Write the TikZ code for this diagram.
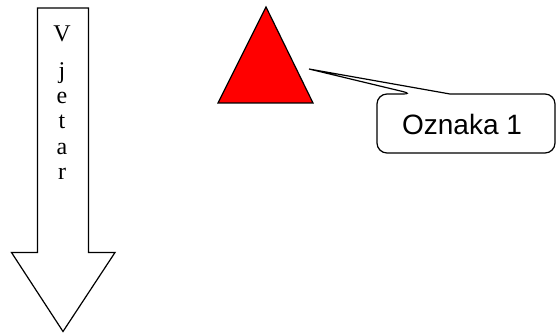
\documentclass[tikz,border=0pt]{standalone}
\usepackage{fontspec}
\setmainfont{Liberation Serif}
\setsansfont{Liberation Sans}
\begin{document}
\begin{tikzpicture}[x=1pt,y=-1pt,line width=1.2pt]
	\useasboundingbox (0,0) rectangle (557,334);
	\draw (37.5,8) -- (88.5,8) -- (88.5,252.5) -- (115,252.5) -- (63,331.5) -- (11.5,252.5) -- (37.5,252.5) -- cycle;
	\foreach \l/\y [count=\i] in {V/42, j/79, e/104, t/129, a/154, r/179} {
		\node[font=\fontsize{24}{24}\selectfont, anchor=base, inner sep=0pt] (ch\i) at (62,\y) {\l};
	}
	\filldraw[fill=red] (266,7) -- (313,103) -- (218,103) -- cycle;
	\draw[rounded corners=10pt] (377,124) -- (377,94) -- (413,94) [sharp corners] -- (309,69) -- (450,94) [rounded corners=10pt] -- (555,94) -- (555,153) -- (377,153) -- cycle;
	\node[font=\sffamily\fontsize{28}{28}\selectfont, anchor=base, inner sep=0pt] (oznaka) at (462,135) {Oznaka 1};
\end{tikzpicture}
\end{document}
